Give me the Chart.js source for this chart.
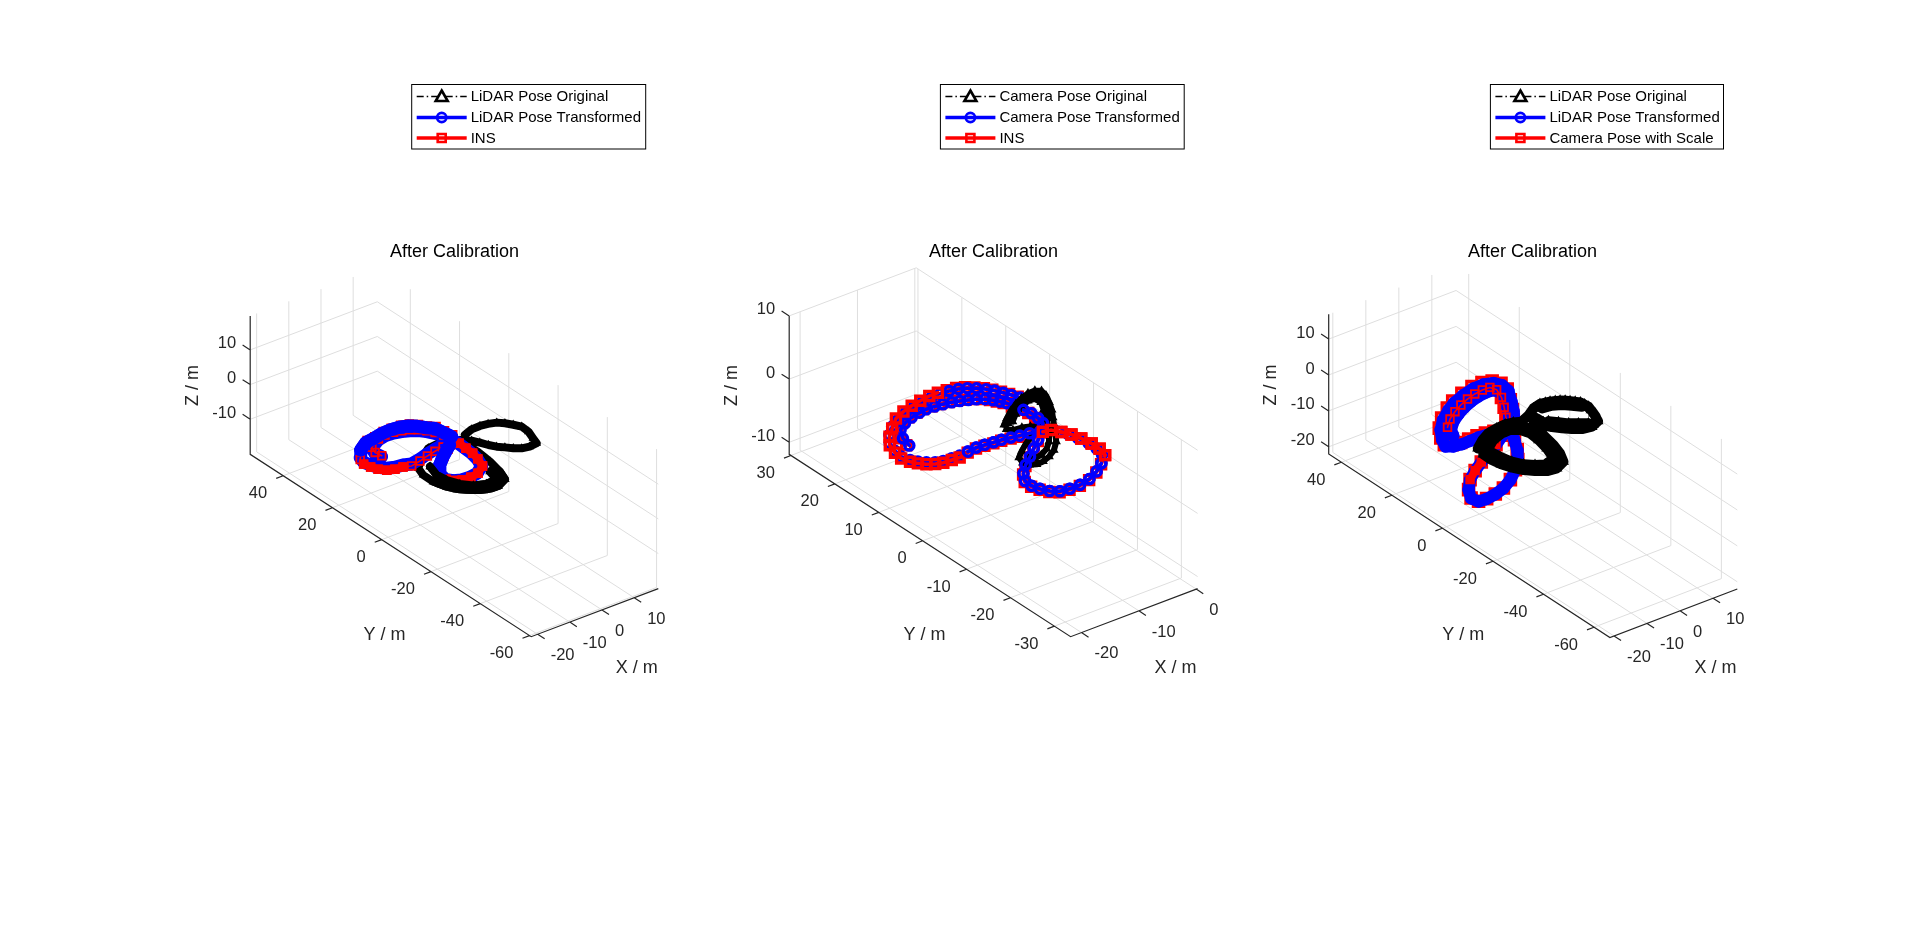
<!DOCTYPE html>
<html>
<head>
<meta charset="utf-8">
<title>After Calibration</title>
<script src="https://cdn.jsdelivr.net/npm/chart.js@4/dist/chart.umd.js"></script>
<style>
    html, body { margin: 0; padding: 0; background: #fff; overflow: hidden; }
    canvas { position: absolute; top: 0; }
</style>
</head>
<body>
<canvas id="panel1" width="539" height="937" style="left:185px"></canvas>
<canvas id="panel2" width="539" height="937" style="left:724px"></canvas>
<canvas id="panel3" width="539" height="937" style="left:1263px"></canvas>
<script>
//tick labels
const p1XTicks = [-20, -10, 0, 10];
const p1YTicks = [40, 20, 0, -20, -40, -60];
const p1ZTicks = [10, 0, -10];
const p2XTicks = [-20, -10, 0];
const p2YTicks = [30, 20, 10, 0, -10, -20, -30];
const p2ZTicks = [10, 0, -10];
const p3XTicks = [-20, -10, 0, 10];
const p3YTicks = [40, 20, 0, -20, -40, -60];
const p3ZTicks = [10, 0, -10, -20];

//legend entries
const p1Legend = ['LiDAR Pose Original', 'LiDAR Pose Transformed', 'INS'];
const p2Legend = ['Camera Pose Original', 'Camera Pose Transformed', 'INS'];
const p3Legend = ['LiDAR Pose Original', 'LiDAR Pose Transformed', 'Camera Pose with Scale'];

//panel 1: null means a break in the track
const p1Z = 0;
const p1BlackX = [4.9,7.9,10.6,12.8,14.9,16.3,17.5,18.6,18.4,17.3,16.5,14.1,12.0,10.4,9.0,7.6,6.5,5.5,4.5,3.1,1.4,-0.7,-2.8,-6.3,-10.6,-14.3,-15.4,-15.4,-14.9,-14.3,-13.5,-12.5,-11.3,-10.1,-8.8,-7.3,-5.7,-4.0,-0.6,0.7,1.8,2.3,2.4,1.9,null,-11.5,-12.7,-12.3,-10.9,-8.7,-5.7,-2.3,-1.3];
const p1BlackY = [1.4,2.6,2.7,2.3,1.5,0.0,-1.8,-3.8,-6.8,-10.1,-12.6,-12.9,-12.4,-11.1,-9.5,-8.0,-6.1,-3.9,-1.9,-0.4,0.9,1.5,2.1,1.6,-1.4,-4.8,-8.2,-12.3,-14.4,-16.3,-17.9,-19.3,-20.5,-21.6,-22.6,-23.3,-23.7,-23.8,-22.1,-18.3,-12.9,-8.1,-4.0,-0.5,null,-5.9,-10.2,-13.7,-17.2,-19.8,-21.2,-20.9,-16.8];
const p1BlueX = [-18.0,-18.3,-17.4,-13.6,-11.1,-8.6,-6.5,-4.6,-2.9,-1.6,-0.5,0.4,1.0,1.1,0.9,0.7,0.1,-1.2,-4.3,-6.9,-9.4,-11.2,-12.4,-11.7,-9.1,-5.9,-2.9,-1.1,-2.4,-5.3,-8.2,-11.2,-14.3,-16.3,-18.6,-20.5,-21.9,-22.7,-23.2,-22.5,-20.1,-16.8,-14.1,-10.9,-8.3,-5.6,-3.5,-1.8,-0.5,1.0,1.4,1.8];
const p1BlueY = [5.3,7.6,10.1,12.4,13.0,12.8,12.2,11.3,10.1,8.4,6.5,4.2,1.7,-0.9,-3.9,-6.9,-9.9,-13.4,-15.6,-16.1,-15.9,-14.9,-13.2,-9.9,-6.7,-3.9,-1.6,-0.3,0.7,0.2,-0.5,-1.4,-2.1,-1.2,-0.9,-0.1,1.6,3.6,5.8,8.1,11.0,13.2,13.6,14.4,14.5,14.2,13.4,11.9,10.0,8.4,5.5,2.7];
const p1RedX = [-17.7,-18.0,-17.1,-13.3,-10.8,-8.3,-6.2,-4.3,-2.6,-1.3,-0.2,0.7,1.3,1.3,1.1,0.9,0.2,-1.0,-4.1,-6.7,-9.2,-11.0,-12.2,-11.5,-8.9,-5.7,-2.7,-0.9,-3.0,-5.9,-8.8,-11.8,-14.9,-16.9,-19.2,-21.1,-22.5,-23.3,-23.8,-23.1,-19.3,-16.0,-13.3,-10.1,-7.5,-4.8,-2.7,-1.0,0.3,1.8,2.2,2.6];
const p1RedY = [5.6,7.9,10.4,12.7,13.3,13.1,12.5,11.6,10.4,8.7,6.8,4.5,2.0,-1.0,-4.0,-7.0,-10.0,-13.5,-15.7,-16.2,-16.0,-15.0,-13.3,-10.0,-6.8,-4.0,-1.7,-0.4,-0.1,-0.6,-1.3,-2.2,-2.9,-2.0,-1.7,-0.9,0.8,2.8,5.0,7.3,11.6,13.8,14.2,15.0,15.1,14.8,14.0,12.5,10.6,9.0,6.1,3.3];

//panel 2
const p2BlackZ = 1;
const p2BlackX = [-7.1,-5.7,-4.0,-2.3,-0.7,0.9,2.1,2.8,2.5,1.7,0.7,-0.5,-1.6,-2.9,-4.2,-5.9,-7.5,-9.0,-10.2,-11.1,-11.5,-11.0,-9.6,-8.0,-6.5,-5.0,-3.4,-4.5,-5.6,-7.0,-7.6,null,-5.6,-4.0,-2.1,-0.4,0.7,0.8,-0.2,-1.3,-2.3,-3.6,-5.0,-6.5,-8.1,-9.4,-10.1,null,-6.4,-4.9,-3.0,-1.0,0.9,1.9,1.2,0.2,-0.9];
const p2BlackY = [0.8,2.0,3.3,4.4,5.2,5.8,5.8,5.2,3.8,2.0,0.1,-1.7,-3.4,-5.4,-7.3,-9.0,-10.0,-10.6,-10.7,-10.2,-9.2,-7.7,-6.5,-5.3,-4.4,-3.4,-2.6,-1.8,-1.3,-1.1,-0.4,null,0.8,2.2,3.4,4.1,4.0,2.7,0.8,-1.1,-2.9,-4.9,-6.7,-8.1,-9.0,-9.2,-8.7,null,0.8,2.0,3.1,4.3,5.0,4.5,2.6,0.5,-1.6];
const p2TrackZ = -2;
const p2BlueX = [-17.8,-17.3,-16.1,-14.5,-12.8,-11.1,-9.8,-8.4,-7.1,-5.8,-4.7,-3.6,-2.6,-1.6,-0.9,-0.4,0.1,0.4,0.8,1.1,1.0,0.7,-0.9,-2.7,-4.6,-6.4,-8.3,-10.0,-11.1,-11.2,-10.8,-10.1,-9.0,-7.5,-5.7,-3.7,-1.6,0.3,1.8,2.3,2.3,2.0,1.6,0.9,0.1,-1.1,-2.5,-4.0,-5.3,-6.7,-8.0,-9.4,-10.8,-12.4,-14.0,-15.3,-16.7,-17.8,-18.8,-19.6,-20.2,-20.6,-20.3,-19.6,-18.2,-16.5,-14.6,-12.6,-10.7,-8.9,-7.1,-5.6,-4.2,-2.8,-1.7,-0.7,0.2,0.9,1.5,2.0,2.5];
const p2BlueY = [8.4,10.5,12.6,13.7,14.4,14.8,15.0,14.9,14.7,14.4,14.0,13.5,13.0,12.3,11.4,10.5,9.6,8.1,6.7,5.3,3.6,2.1,0.4,-1.2,-2.7,-4.2,-5.7,-7.4,-9.2,-10.8,-12.2,-13.5,-14.4,-14.7,-14.7,-14.2,-13.1,-11.7,-9.9,-8.0,-6.2,-4.2,-2.5,-1.1,0.2,0.5,1.0,1.3,1.6,1.9,2.0,2.2,2.3,2.1,1.9,2.0,2.1,2.5,3.2,4.1,5.1,6.6,8.4,10.5,12.4,14.0,15.1,16.0,16.6,17.0,17.3,17.3,17.1,16.8,16.2,15.4,14.4,13.4,12.2,11.0,9.7];
const p2RedX = [-18.1,-17.6,-16.4,-14.8,-13.1,-11.4,-10.1,-8.7,-7.4,-6.1,-5.0,-3.9,-2.9,-1.9,-1.2,-0.7,-0.2,0.1,0.5,0.8,0.7,0.4,-1.1,-2.9,-4.8,-6.6,-8.5,-10.2,-11.3,-11.4,-11.0,-10.3,-9.2,-7.7,-5.9,-3.9,-1.8,0.1,2.1,2.6,2.6,2.3,1.9,1.2,0.4,-0.8,-2.7,-4.2,-5.5,-6.9,-8.2,-9.6,-11.0,-12.6,-14.3,-15.6,-17.0,-18.1,-19.1,-19.9,-20.5,-20.9,-20.6,-19.9,-18.5,-16.8,-14.7,-12.7,-10.8,-9.0,-7.2,-5.7,-4.3,-2.9,-1.8,-0.8,0.1,0.8,1.4,1.9,2.4];
const p2RedY = [8.7,10.8,12.9,14.0,14.7,15.1,15.3,15.2,15.0,14.7,14.3,13.8,13.3,12.6,11.7,10.8,9.9,8.4,7.0,5.6,3.9,2.4,0.2,-1.4,-2.9,-4.4,-5.9,-7.6,-9.4,-11.0,-12.4,-13.7,-14.6,-14.9,-14.9,-14.4,-13.3,-11.9,-10.2,-8.3,-6.5,-4.5,-2.8,-1.4,-0.1,0.2,0.8,1.1,1.4,1.7,1.8,2.0,2.1,1.9,1.5,1.6,1.7,2.1,2.8,3.7,4.7,6.2,8.0,10.1,12.0,13.6,15.5,16.4,17.0,17.4,17.7,17.7,17.5,17.2,16.6,15.8,14.8,13.8,12.6,11.4,10.1];

//panel 3
const p3BlackZ = 5;
const p3BlackX = [-19.5,-16.2,-13.1,-10.0,-7.2,-5.1,-3.3,0.0,2.9,5.4,8.0,10.2,12.0,13.6,13.9,12.9,11.5,8.7,6.1,4.2,2.5,0.9,-0.4,-1.2,-2.5,-3.2,-4.0,-5.2,-7.0,-10.2,-12.9,-15.2,-17.1,-18.6,-19.7,-20.2,-20.2,null,-17.5,-14.1,-10.5,-7.9,-6.0,-5.1,-5.4,-6.3,-7.9,-11.3,-13.4,-15.4,-16.9,-17.7,-18.0,null,9.0,7.1,5.2,3.6,2.0,null,4.5,7.2,9.3,11.0,12.6,null,-18.6,-15.6,-12.4,-9.4,-7.2,-5.3,-4.1,-4.1,-5.0,-6.1,-7.3,-10.4,-13.1,-15.3,-17.0,-18.0,-18.5,-18.9,null,9.7,7.3,5.4,3.6,2.1,0.7,0.6,null,6.8,9.2,11.2,12.8,13.8,13.4,12.4];
const p3BlackY = [-11.7,-9.2,-7.5,-6.8,-6.5,-7.0,-7.9,-6.4,-4.5,-3.8,-4.4,-5.5,-7.1,-9.1,-11.9,-15.2,-18.8,-20.1,-19.5,-18.0,-16.3,-14.4,-12.1,-9.9,-13.5,-17.1,-21.5,-25.6,-29.3,-30.9,-30.5,-28.7,-26.7,-24.1,-21.2,-18.2,-14.8,null,-13.3,-10.8,-9.5,-9.4,-10.9,-13.6,-17.4,-21.8,-26.6,-27.7,-26.4,-24.5,-21.8,-18.1,-15.3,null,-18.3,-16.8,-15.4,-13.5,-11.6,null,-5.8,-6.2,-7.4,-9.1,-11.0,null,-12.4,-10.2,-8.6,-7.7,-8.0,-9.0,-10.9,-14.3,-18.3,-22.9,-27.1,-29.8,-28.7,-26.6,-24.1,-20.9,-17.5,-14.5,null,-19.4,-18.6,-17.1,-15.4,-13.4,-11.3,-8.8,null,-4.1,-4.9,-6.2,-8.1,-10.5,-13.6,-16.8];
const p3TrackZ = -5;
const p3BlueX = [-9.9,-8.7,-5.8,-2.7,0.4,3.4,6.3,8.9,11.1,11.7,10.4,8.0,5.4,2.8,0.5,-1.9,-4.7,-8.1,-12.0,-15.8,-19.1,-22.1,-24.4,-24.9,-22.9,-19.7,-16.1,-12.4,-8.4,-4.5,-0.5,-1.2,-3.3,-5.7,-8.3,-10.8,-13.1,-14.6,-13.3,-10.7,-7.3,-3.3,-0.2,3.8,7.7,10.8,13.2,14.2,13.7,11.2,8.7,5.9];
const p3BlueY = [10.5,13.0,15.8,17.9,19.6,20.9,21.8,22.2,22.1,20.2,16.6,12.4,8.3,4.2,-0.1,-4.3,-8.2,-11.7,-14.8,-17.0,-18.1,-18.6,-18.4,-16.1,-12.5,-8.9,-6.2,-3.8,-1.4,0.7,3.3,5.3,5.9,6.1,6.0,5.9,6.3,7.4,10.5,14.5,18.0,21.0,22.9,24.5,25.6,25.7,24.8,22.6,19.5,15.0,10.9,6.9];
const p3RedX = [-9.8,-8.6,-5.7,-2.6,0.5,3.5,6.4,9.0,11.2,11.8,10.5,8.1,5.5,2.9,0.6,-1.8,-4.6,-8.0,-11.9,-15.7,-19.0,-22.0,-24.3,-24.8,-22.8,-19.6,-16.0,-12.3,-8.3,-4.4,-0.4,-0.9,-3.0,-5.4,-8.0,-10.5,-12.8,-14.3,-13.0,-10.4,-7.0,-3.0,0.1,4.1,8.0,11.1,13.5,14.5,14.0,11.5,9.0,6.2];
const p3RedY = [12.0,14.5,17.3,19.4,21.1,22.4,23.3,23.7,23.6,21.7,18.1,13.9,9.8,5.7,0.0,-4.2,-8.1,-11.6,-14.7,-16.9,-18.0,-18.5,-18.3,-16.0,-12.4,-8.8,-6.1,-3.7,-1.3,0.8,3.4,6.2,6.8,7.0,6.9,6.8,7.2,8.3,11.4,15.4,18.9,21.9,23.8,25.4,26.5,26.6,25.7,23.5,20.4,15.9,11.8,7.8];

const GRID_COLOR = '#dedede';
const AXIS_COLOR = '#262626';
const FONT = '"Liberation Sans", Arial, sans-serif';
const CANVAS_W = 539;
const TITLE_TOP = 241.5; //title padding, sets the title height on the page
const TITLE_SIZE = 18;

//the box of each panel as it sits on the page (fixed MATLAB style camera)
const views = {
    p1: {left: 185, a: [250.2, 454.3], b: [531.2, 636.7], c: [658.3, 588.6], topY: 315.9,
        xLim: [-22, 17.5], yLim: [-60.7, 53.4], zLim: [-20.1, 19.8]},
    p2: {left: 724, a: [789.2, 454.3], b: [1070.6, 636.7], c: [1197.6, 588.6], topY: 315.9,
        xLim: [-21.9, 0.24], yLim: [-33.7, 30.4], zLim: [-11.9, 10]},
    p3: {left: 1263, a: [1328.7, 454], b: [1609.9, 637.6], c: [1737.3, 589], topY: 314.3,
        xLim: [-21.25, 17.35], yLim: [-66.3, 45], zLim: [-22, 16.9]},
};

function project(v, x, y, z) {
    if (x === null || y === null) {
        return {x: NaN, y: NaN};
    }
    const fx = (x - v.xLim[0]) / (v.xLim[1] - v.xLim[0]);
    const fy = (v.yLim[1] - y) / (v.yLim[1] - v.yLim[0]);
    const fz = (z - v.zLim[0]) / (v.zLim[1] - v.zLim[0]);
    return {
        x: v.a[0] + fy * (v.b[0] - v.a[0]) + fx * (v.c[0] - v.b[0]) - v.left,
        y: v.a[1] + fy * (v.b[1] - v.a[1]) + fx * (v.c[1] - v.b[1]) - fz * (v.a[1] - v.topY),
    };
}

function track(v, xs, ys, z, ranges) {
    const pts = [];
    if (!ranges) {
        xs.forEach((x, i) => pts.push(project(v, x, ys[i], z)));
        return pts;
    }
    ranges.forEach(r => {
        for (let i = r[0]; i <= r[1]; i++) {
            pts.push(project(v, xs[i], ys[i], z));
        }
        pts.push({x: NaN, y: NaN});
    });
    return pts;
}

function gridPoints(v, xt, yt, zt) {
    const [x0, x1] = v.xLim, [y0, y1] = v.yLim, [z0, z1] = v.zLim;
    const pts = [];
    const add = (...corners) => {
        corners.forEach(c => pts.push(project(v, c[0], c[1], c[2])));
        pts.push({x: NaN, y: NaN});
    };
    xt.forEach(x => add([x, y0, z0], [x, y1, z0], [x, y1, z1]));
    yt.forEach(y => add([x0, y, z0], [x1, y, z0], [x1, y, z1]));
    zt.forEach(z => add([x0, y1, z], [x1, y1, z], [x1, y0, z]));
    return pts;
}

function axisPoints(v, xt, yt, zt) {
    const [x0, x1] = v.xLim, [y0, y1] = v.yLim, [z0, z1] = v.zLim;
    const xr = x1 - x0, yr = y1 - y0;
    const pts = [];
    const add = (...corners) => {
        corners.forEach(c => pts.push(project(v, c[0], c[1], c[2])));
        pts.push({x: NaN, y: NaN});
    };
    add([x0, y1, z1], [x0, y1, z0], [x0, y0, z0], [x1, y0, z0]);
    xt.forEach(x => add([x, y0, z0], [x, y0 - 0.025 * yr, z0]));
    yt.forEach(y => add([x0, y, z0], [x0 - 0.055 * xr, y, z0]));
    zt.forEach(z => add([x0, y1, z], [x0, y1 + 0.027 * yr, z]));
    return pts;
}

const STYLES = {
    black: {borderColor: '#000', borderWidth: 1, borderDash: [7, 3, 1.5, 3], pointStyle: 'triangle',
        pointRadius: 5, pointBorderWidth: 1.4, pointBorderColor: '#000', pointBackgroundColor: '#000'},
    blue: {borderColor: '#0000ff', borderWidth: 3.5, pointStyle: 'circle',
        pointRadius: 4.6, pointBorderWidth: 3.4, pointBorderColor: '#0000ff', pointBackgroundColor: 'transparent'},
    red: {borderColor: '#ff0000', borderWidth: 3.5, pointStyle: 'rect',
        pointRadius: 6.4, pointBorderWidth: 3.4, pointBorderColor: '#ff0000', pointBackgroundColor: 'transparent'},
};

//the dense tracks of panels 1 and 3 merge into solid bands
const SOLID_BLACK = {borderWidth: 8, borderDash: [], pointRadius: 4, pointBorderWidth: 1.2};
const SOLID_BLUE = {borderWidth: 13, pointRadius: 5, pointBorderWidth: 2.4, pointBackgroundColor: '#0000ff'};
const THIN_RED = {borderWidth: 1.6, pointRadius: 5.4, pointBorderWidth: 1.8};
const WIDE_RED = {borderWidth: 8, pointRadius: 5.4, pointBorderWidth: 1.8};

function plainLine(points, color, width) {
    return {data: points, borderColor: color, borderWidth: width, pointRadius: 0, showLine: true, clip: false};
}

//text and legend are drawn on top of the datasets
function overlayPlugin(panel) {
    const v = panel.view;
    return {
        id: 'overlay' + panel.id,
        afterDraw(chart) {
            const ctx = chart.ctx;
            ctx.save();
            ctx.fillStyle = AXIS_COLOR;
            ctx.textBaseline = 'middle';
            ctx.font = '16.5px ' + FONT;
            const [x0] = v.xLim, [y0, y1] = v.yLim, [z0] = v.zLim;
            ctx.textAlign = 'left';
            panel.xTicks.forEach(t => {
                const p = project(v, t, y0, z0);
                ctx.fillText(String(t), p.x + 13, p.y + 21.3);
            });
            ctx.textAlign = 'right';
            panel.yTicks.forEach(t => {
                const p = project(v, x0, t, z0);
                ctx.fillText(String(t), p.x - 16, p.y + 18);
            });
            panel.zTicks.forEach(t => {
                const p = project(v, x0, y1, t);
                ctx.fillText(String(t), p.x - 14, p.y - 6);
            });
            ctx.textAlign = 'center';
            ctx.font = '18px ' + FONT;
            ctx.fillText('X / m', panel.xLabel[0] - v.left, panel.xLabel[1] + 1);
            ctx.fillText('Y / m', panel.yLabel[0] - v.left, panel.yLabel[1] + 1);
            ctx.save();
            ctx.translate(panel.zLabel[0] - v.left, panel.zLabel[1]);
            ctx.rotate(-Math.PI / 2);
            ctx.fillText('Z / m', 0, 0);
            ctx.restore();
            drawLegend(ctx, panel);
            ctx.restore();
        },
    };
}

function drawLegend(ctx, panel) {
    const box = panel.legendBox;
    const left = box[0] - panel.view.left;
    const right = box[1] - panel.view.left;
    ctx.fillStyle = '#fff';
    ctx.fillRect(left, 84.5, right - left, 64.5);
    ctx.strokeStyle = '#000';
    ctx.lineWidth = 1;
    ctx.setLineDash([]);
    ctx.strokeRect(left, 84.5, right - left, 64.5);
    const rows = [96.5, 117.5, 138];
    const sx = left + 5, ex = left + 55, mx = left + 30;
    panel.legend.forEach((label, i) => {
        const y = rows[i];
        const style = [STYLES.black, STYLES.blue, STYLES.red][i];
        ctx.strokeStyle = style.borderColor;
        ctx.lineWidth = i === 0 ? 1.5 : 3.4;
        ctx.setLineDash(i === 0 ? [7, 3, 1.5, 3] : []);
        ctx.beginPath();
        ctx.moveTo(sx, y);
        ctx.lineTo(ex, y);
        ctx.stroke();
        ctx.setLineDash([]);
        ctx.lineWidth = 2.6;
        ctx.fillStyle = '#fff';
        ctx.beginPath();
        if (i === 0) {
            ctx.moveTo(mx, y - 6);
            ctx.lineTo(mx + 6, y + 4.5);
            ctx.lineTo(mx - 6, y + 4.5);
            ctx.closePath();
            ctx.fill();
        } else if (i === 1) {
            ctx.arc(mx, y, 4.6, 0, 2 * Math.PI);
        } else {
            ctx.rect(mx - 4, y - 4, 8, 8);
        }
        ctx.stroke();
        ctx.fillStyle = '#000';
        ctx.textAlign = 'left';
        ctx.font = '15px ' + FONT;
        ctx.fillText(label, left + 59, y + 0.5);
    });
}

function makePanel(panel) {
    const v = panel.view;
    //later entries are painted on top
    const layers = [
        plainLine(gridPoints(v, panel.xTicks, panel.yTicks, panel.zTicks), GRID_COLOR, 1),
        plainLine(axisPoints(v, panel.xTicks, panel.yTicks, panel.zTicks), AXIS_COLOR, 1.2),
    ].concat(panel.series.map(s => Object.assign({
        data: track(v, s.x, s.y, s.z, s.ranges),
        showLine: true,
        clip: false,
        tension: 0,
        borderJoinStyle: 'round',
        borderCapStyle: 'round',
    }, STYLES[s.style], s.extra)));
    layers.forEach((d, i) => { d.order = layers.length - i; });

    new Chart(document.getElementById(panel.id), {
        type: 'scatter',
        data: {datasets: layers},
        options: {
            responsive: false,
            animation: false,
            events: [],
            layout: {padding: 0, autoPadding: false},
            scales: {
                x: {type: 'linear', min: 0, max: CANVAS_W, display: false},
                y: {type: 'linear', min: TITLE_TOP + TITLE_SIZE * 1.2, max: 937, reverse: true, display: false},
            },
            plugins: {
                legend: {display: false},
                tooltip: {enabled: false},
                title: {
                    display: true,
                    text: 'After Calibration',
                    color: '#000',
                    font: {family: FONT, size: TITLE_SIZE, weight: 'normal'},
                    padding: {top: TITLE_TOP, bottom: 0},
                },
            },
        },
        plugins: [overlayPlugin(panel)],
    });
}

makePanel({
    id: 'panel1', view: views.p1, xTicks: p1XTicks, yTicks: p1YTicks, zTicks: p1ZTicks,
    legend: p1Legend, legendBox: [411.7, 645.7],
    xLabel: [636.7, 667.3], yLabel: [384.5, 634], zLabel: [193.5, 385.5],
    series: [
        {style: 'black', x: p1BlackX, y: p1BlackY, z: p1Z, extra: SOLID_BLACK},
        {style: 'blue', x: p1BlueX, y: p1BlueY, z: p1Z, extra: SOLID_BLUE},
        {style: 'red', x: p1RedX, y: p1RedY, z: p1Z, extra: THIN_RED},
        {style: 'red', x: p1RedX, y: p1RedY, z: p1Z, ranges: [[13, 22], [33, 38]], extra: WIDE_RED},
        {style: 'blue', x: p1BlueX, y: p1BlueY, z: p1Z, ranges: [[23, 27], [40, 51]], extra: SOLID_BLUE},
        {style: 'black', x: p1BlackX, y: p1BlackY, z: p1Z, ranges: [[27, 39], [45, 51]], extra: SOLID_BLACK},
    ],
});

makePanel({
    id: 'panel2', view: views.p2, xTicks: p2XTicks, yTicks: p2YTicks, zTicks: p2ZTicks,
    legend: p2Legend, legendBox: [940.4, 1184.2],
    xLabel: [1175.5, 667.3], yLabel: [924.5, 634], zLabel: [732.2, 385.5],
    series: [
        {style: 'red', x: p2RedX, y: p2RedY, z: p2TrackZ, ranges: [[0, 17], [72, 80]]},
        {style: 'blue', x: p2BlueX, y: p2BlueY, z: p2TrackZ},
        {style: 'red', x: p2RedX, y: p2RedY, z: p2TrackZ, ranges: [[18, 71]]},
        {style: 'black', x: p2BlackX, y: p2BlackY, z: p2BlackZ, extra: {borderWidth: 6, borderDash: [], pointRadius: 4}},
        {style: 'blue', x: p2BlueX, y: p2BlueY, z: p2TrackZ, ranges: [[18, 37], [45, 53]]},
        {style: 'red', x: p2RedX, y: p2RedY, z: p2TrackZ, ranges: [[38, 45]]},
    ],
});

makePanel({
    id: 'panel3', view: views.p3, xTicks: p3XTicks, yTicks: p3YTicks, zTicks: p3ZTicks,
    legend: p3Legend, legendBox: [1490.4, 1723.5],
    xLabel: [1715.4, 667.3], yLabel: [1463.2, 634], zLabel: [1271, 385],
    series: [
        {style: 'red', x: p3RedX, y: p3RedY, z: p3TrackZ, extra: {pointRadius: 7.2}},
        {style: 'blue', x: p3BlueX, y: p3BlueY, z: p3TrackZ, extra: Object.assign({}, SOLID_BLUE, {borderWidth: 12})},
        {style: 'red', x: p3RedX, y: p3RedY, z: p3TrackZ, ranges: [[1, 13]], extra: THIN_RED},
        {style: 'red', x: p3RedX, y: p3RedY, z: p3TrackZ, ranges: [[25, 29]], extra: WIDE_RED},
        {style: 'black', x: p3BlackX, y: p3BlackY, z: p3BlackZ, extra: {borderWidth: 10, borderDash: [], pointRadius: 5, pointBorderWidth: 1.4}},
    ],
});
</script>
</body>
</html>
